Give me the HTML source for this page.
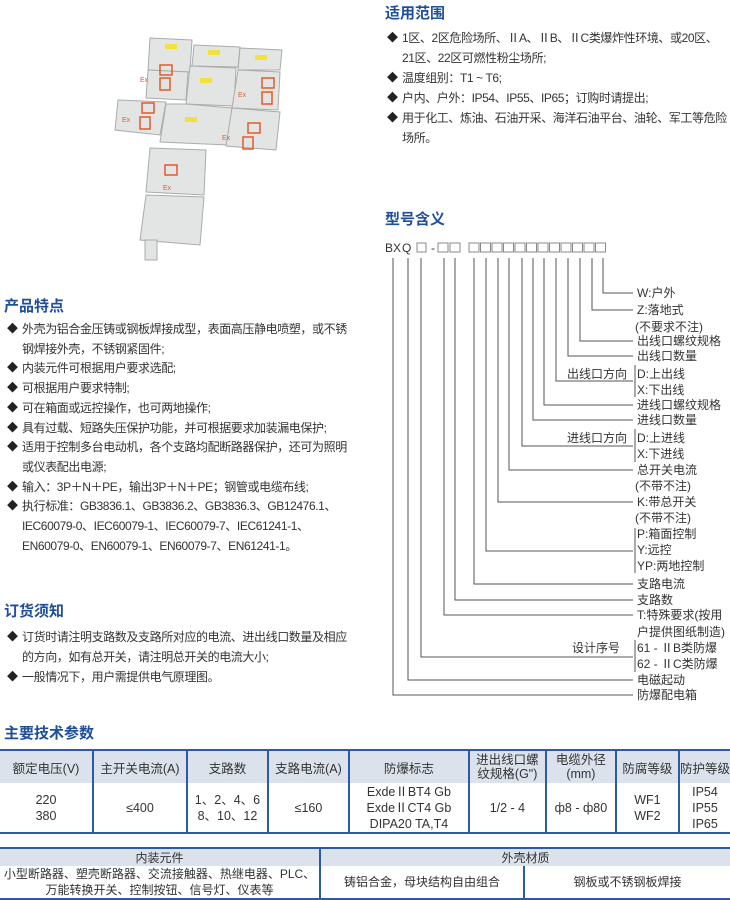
<!DOCTYPE html>
<html><head><meta charset="utf-8"><style>
body{margin:0;width:730px;height:898px;background:#fff;position:relative;overflow:hidden;font-family:"Liberation Sans","Noto Sans CJK SC",sans-serif;color:#333;}
.a{position:absolute;white-space:nowrap;}
.t{font-size:15px;font-weight:bold;color:#1e4e9c;}
.b{font-size:12px;line-height:20px;letter-spacing:-0.4px;}
.b i{font-style:normal;position:absolute;left:-15px;font-size:11px;color:#222;}
table{border-collapse:collapse;position:absolute;font-size:12.5px;color:#333;}
td{text-align:center;padding:0;white-space:nowrap;}
</style></head><body>

<svg class="a" style="left:0;top:0" width="730" height="898">
<g stroke="#a9acab" stroke-width="1" fill="#e3e5e4">
<polygon points="150,38 192,40 190,72 148,70"/>
<polygon points="194,45 240,47 238,67 192,66"/>
<polygon points="240,48 282,50 280,70 238,70"/>
<polygon points="148,70 188,72 186,100 146,98"/>
<polygon points="190,66 236,68 234,106 186,104"/>
<polygon points="238,70 280,72 278,110 232,108"/>
<polygon points="118,100 166,102 160,135 115,130"/>
<polygon points="186,104 232,108 228,145 160,142 166,104"/>
<polygon points="232,108 280,112 276,150 226,146"/>
<polygon points="150,148 206,150 204,195 146,192"/>
<polygon points="146,195 204,197 200,245 140,240"/>
<rect x="145" y="240" width="12" height="20"/>
</g>
<g fill="#f0e23a"><rect x="165" y="44" width="12" height="5"/><rect x="208" y="50" width="12" height="5"/><rect x="255" y="55" width="12" height="5"/><rect x="200" y="78" width="12" height="5"/><rect x="185" y="117" width="12" height="5"/></g>
<g fill="none" stroke="#e35a2a" stroke-width="1.5"><rect x="160" y="65" width="12" height="10"/><rect x="160" y="78" width="10" height="12"/><rect x="262" y="78" width="12" height="10"/><rect x="262" y="92" width="10" height="12"/><rect x="142" y="103" width="12" height="10"/><rect x="140" y="117" width="10" height="12"/><rect x="248" y="123" width="12" height="10"/><rect x="243" y="137" width="10" height="12"/><rect x="165" y="165" width="12" height="10"/></g>
<g fill="#e35a2a" font-size="7" font-family="Liberation Sans"><text x="140" y="82">Ex</text><text x="238" y="97">Ex</text><text x="122" y="122">Ex</text><text x="222" y="140">Ex</text><text x="163" y="190">Ex</text></g>

<g font-size="12" fill="#333" font-family="Liberation Sans"><text x="385" y="252">BX</text><text x="402" y="252">Q</text><text x="431" y="252">-</text></g>
<g fill="none" stroke="#888" stroke-width="1">
<rect x="417" y="243" width="9" height="9"/>
<rect x="438" y="243" width="10" height="9"/><rect x="450" y="243" width="10" height="9"/>
<rect x="469" y="243" width="10" height="9"/><rect x="480.5" y="243" width="10" height="9"/><rect x="492" y="243" width="10" height="9"/><rect x="503.5" y="243" width="10" height="9"/><rect x="515" y="243" width="10" height="9"/><rect x="526.5" y="243" width="10" height="9"/><rect x="538" y="243" width="10" height="9"/><rect x="549.5" y="243" width="10" height="9"/><rect x="561" y="243" width="10" height="9"/><rect x="572.5" y="243" width="10" height="9"/><rect x="584" y="243" width="10" height="9"/><rect x="595.5" y="243" width="10" height="9"/>
</g>
<g fill="none" stroke="#555" stroke-width="1">
<path d="M393 258V695H633M408 258V680H633M421 258V657H633M444 258V615H633M455 258V600H633M474 258V584H633M486 258V551H633M498 258V502H633M509 258V470H633M522 258V446H633M533 258V420H633M544 258V405H633M556 258V381H633M568 258V356H633M580 258V341H633M592 258V310H633M603 258V293H633"/>
<path d="M635 365V397M635 429V462M635 528V573M635 640V672"/>
</g>
<g font-size="12" fill="#333">
<text x="637" y="297">W:户外</text>
<text x="637" y="314">Z:落地式</text>
<text x="635" y="331">(不要求不注)</text>
<text x="637" y="345">出线口螺纹规格</text>
<text x="637" y="360">出线口数量</text>
<text x="567" y="378">出线口方向</text>
<text x="637" y="378">D:上出线</text>
<text x="637" y="394">X:下出线</text>
<text x="637" y="409">进线口螺纹规格</text>
<text x="637" y="424">进线口数量</text>
<text x="567" y="442">进线口方向</text>
<text x="637" y="442">D:上进线</text>
<text x="637" y="458">X:下进线</text>
<text x="637" y="474">总开关电流</text>
<text x="635" y="490">(不带不注)</text>
<text x="637" y="506">K:带总开关</text>
<text x="635" y="522">(不带不注)</text>
<text x="637" y="538">P:箱面控制</text>
<text x="637" y="554">Y:远控</text>
<text x="637" y="570">YP:两地控制</text>
<text x="637" y="588">支路电流</text>
<text x="637" y="604">支路数</text>
<text x="637" y="619">T:特殊要求(按用</text>
<text x="637" y="636">户提供图纸制造)</text>
<text x="572" y="652">设计序号</text>
<text x="637" y="652">61 - ⅡB类防爆</text>
<text x="637" y="668">62 - ⅡC类防爆</text>
<text x="637" y="684">电磁起动</text>
<text x="637" y="699">防爆配电箱</text>
</g>
</svg>

<div class="a t" style="left:385px;top:2px">适用范围</div>
<div class="a b" style="left:402px;top:28px">
<div style="position:relative"><i>◆</i>1区、2区危险场所、ⅡA、ⅡB、ⅡC类爆炸性环境、或20区、</div>
<div>21区、22区可燃性粉尘场所;</div>
<div style="position:relative"><i>◆</i>温度组别：T1 ~ T6;</div>
<div style="position:relative"><i>◆</i>户内、户外：IP54、IP55、IP65；订购时请提出;</div>
<div style="position:relative"><i>◆</i>用于化工、炼油、石油开采、海洋石油平台、油轮、军工等危险</div>
<div>场所。</div>
</div>

<div class="a t" style="left:385px;top:208px">型号含义</div>

<div class="a t" style="left:4px;top:295px">产品特点</div>
<div class="a b" style="left:22px;top:320px;line-height:19.7px">
<div style="position:relative"><i>◆</i>外壳为铝合金压铸或钢板焊接成型，表面高压静电喷塑，或不锈</div>
<div>钢焊接外壳，不锈钢紧固件;</div>
<div style="position:relative"><i>◆</i>内装元件可根据用户要求选配;</div>
<div style="position:relative"><i>◆</i>可根据用户要求特制;</div>
<div style="position:relative"><i>◆</i>可在箱面或远控操作，也可两地操作;</div>
<div style="position:relative"><i>◆</i>具有过载、短路失压保护功能，并可根据要求加装漏电保护;</div>
<div style="position:relative"><i>◆</i>适用于控制多台电动机，各个支路均配断路器保护，还可为照明</div>
<div>或仪表配出电源;</div>
<div style="position:relative"><i>◆</i>输入：3P＋N＋PE，输出3P＋N＋PE；钢管或电缆布线;</div>
<div style="position:relative"><i>◆</i>执行标准：GB3836.1、GB3836.2、GB3836.3、GB12476.1、</div>
<div>IEC60079-0、IEC60079-1、IEC60079-7、IEC61241-1、</div>
<div>EN60079-0、EN60079-1、EN60079-7、EN61241-1。</div>
</div>

<div class="a t" style="left:4px;top:600px">订货须知</div>
<div class="a b" style="left:22px;top:627px">
<div style="position:relative"><i>◆</i>订货时请注明支路数及支路所对应的电流、进出线口数量及相应</div>
<div>的方向，如有总开关，请注明总开关的电流大小;</div>
<div style="position:relative"><i>◆</i>一般情况下，用户需提供电气原理图。</div>
</div>

<div class="a t" style="left:4px;top:722px">主要技术参数</div>
<table style="left:0;top:749px;width:730px;border-top:2px solid #2b5aa6;border-bottom:2px solid #2b5aa6">
<tr style="height:33px;background:#dbe2ec">
<td style="width:92px">额定电压(V)</td><td style="width:92px;border-left:2px solid #2b5aa6">主开关电流(A)</td><td style="width:79px;border-left:2px solid #2b5aa6">支路数</td><td style="width:79px;border-left:2px solid #2b5aa6">支路电流(A)</td><td style="width:118px;border-left:2px solid #2b5aa6">防爆标志</td><td style="width:75px;border-left:2px solid #2b5aa6;line-height:14px">进出线口螺<br>纹规格(G")</td><td style="width:68px;border-left:2px solid #2b5aa6;line-height:14px">电缆外径<br>(mm)</td><td style="width:61px;border-left:2px solid #2b5aa6">防腐等级</td><td style="border-left:2px solid #2b5aa6">防护等级</td>
</tr>
<tr style="height:50px;line-height:16px">
<td>220<br>380</td><td style="border-left:2px solid #2b5aa6">≤400</td><td style="border-left:2px solid #2b5aa6">1、2、4、6<br>8、10、12</td><td style="border-left:2px solid #2b5aa6">≤160</td><td style="border-left:2px solid #2b5aa6">ExdeⅡBT4 Gb<br>ExdeⅡCT4 Gb<br>DIPA20 TA,T4</td><td style="border-left:2px solid #2b5aa6">1/2 - 4</td><td style="border-left:2px solid #2b5aa6">ф8 - ф80</td><td style="border-left:2px solid #2b5aa6">WF1<br>WF2</td><td style="border-left:2px solid #2b5aa6">IP54<br>IP55<br>IP65</td>
</tr>
</table>

<table style="left:0;top:847px;width:730px;font-size:12px;table-layout:fixed;border-top:2px solid #2b5aa6;border-bottom:2px solid #2b5aa6">
<colgroup><col style="width:320px"><col style="width:204px"><col></colgroup>
<tr style="height:15px;background:#dbe2ec"><td>内装元件</td><td colspan="2" style="border-left:2px solid #2b5aa6">外壳材质</td></tr>
<tr style="height:33px;line-height:16px"><td>小型断路器、塑壳断路器、交流接触器、热继电器、PLC、<br>万能转换开关、控制按钮、信号灯、仪表等</td><td style="border-left:2px solid #2b5aa6">铸铝合金，母块结构自由组合</td><td style="border-left:2px solid #2b5aa6">钢板或不锈钢板焊接</td></tr>
</table>
</body></html>
